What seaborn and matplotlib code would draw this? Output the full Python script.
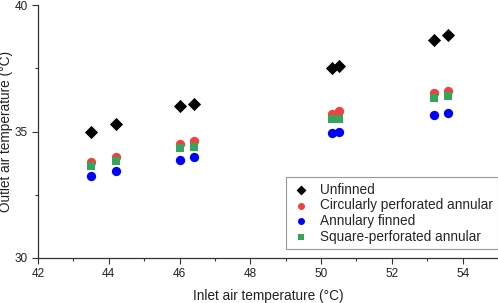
import matplotlib
matplotlib.use("Agg")
import matplotlib.pyplot as plt
import seaborn as sns
import pandas as pd
from matplotlib.ticker import MultipleLocator

inlet = [43.5, 44.2, 46.0, 46.4, 50.3, 50.5, 53.2, 53.6]
unfinned = [35.0, 35.28, 36.0, 36.1, 37.5, 37.6, 38.6, 38.8]
circular = [33.79, 33.99, 34.51, 34.61, 35.7, 35.81, 36.52, 36.61]
annular = [33.25, 33.44, 33.89, 33.98, 34.93, 34.97, 35.64, 35.73]
square = [33.64, 33.83, 34.35, 34.4, 35.5, 35.5, 36.31, 36.4]

series_names = ["Unfinned", "Circularly perforated annular", "Annulary finned", "Square-perforated annular"]
series_vals = [unfinned, circular, annular, square]

rows = []
for name, vals in zip(series_names, series_vals):
    for x, y in zip(inlet, vals):
        rows.append({"Inlet": x, "Outlet": y, "Series": name})
df = pd.DataFrame(rows)

sns.set_style("ticks")
plt.rcParams['font.family'] = ['Liberation Sans', 'DejaVu Sans']

fig = plt.figure(figsize=(4.98, 3.03), dpi=100)
ax = fig.add_axes([38/498, 45/303, 460/498, 253/303])

palette = {"Unfinned": "#000000", "Circularly perforated annular": "#f04040",
           "Annulary finned": "#0000ff", "Square-perforated annular": "#35a55a"}
markers = {"Unfinned": "D", "Circularly perforated annular": "o",
           "Annulary finned": "o", "Square-perforated annular": "s"}
sizes = {"Unfinned": 45, "Circularly perforated annular": 45,
         "Annulary finned": 45, "Square-perforated annular": 32}

for name in series_names:
    sub = df[df["Series"] == name]
    sns.scatterplot(data=sub, x="Inlet", y="Outlet", ax=ax, color=palette[name],
                    marker=markers[name], s=sizes[name], linewidth=0, label=name)

ax.set_xlim(42, 55)
ax.set_ylim(30, 40)
ax.xaxis.set_major_locator(MultipleLocator(2))
ax.xaxis.set_minor_locator(MultipleLocator(1))
ax.yaxis.set_major_locator(MultipleLocator(5))
ax.yaxis.set_minor_locator(MultipleLocator(2.5))
ax.tick_params(axis='both', which='major', direction='out', length=4, width=0.8,
               labelsize=8.5, colors='#333333', labelcolor='#222222')
ax.tick_params(axis='both', which='minor', direction='out', length=2.5, width=0.8, colors='#333333')
for s in ['top', 'right']:
    ax.spines[s].set_visible(False)
for s in ['left', 'bottom']:
    ax.spines[s].set_color('#333333')
    ax.spines[s].set_linewidth(0.9)

ax.set_xlabel("Inlet air temperature (°C)", fontsize=9.8, color='#222222', labelpad=6)
ax.set_ylabel("Outlet air temperature (°C)", fontsize=9.8, color='#222222', labelpad=1)

leg = ax.legend(loc='lower right', bbox_to_anchor=(1.0, 0.035), fontsize=9.8, frameon=True,
                fancybox=False, edgecolor='#999999', framealpha=1, borderpad=0.4,
                handletextpad=0.7, labelspacing=0.12, handlelength=1.4, borderaxespad=0,
                markerscale=0.75)
leg.get_frame().set_linewidth(0.8)

fig.savefig("out.png", dpi=100)
